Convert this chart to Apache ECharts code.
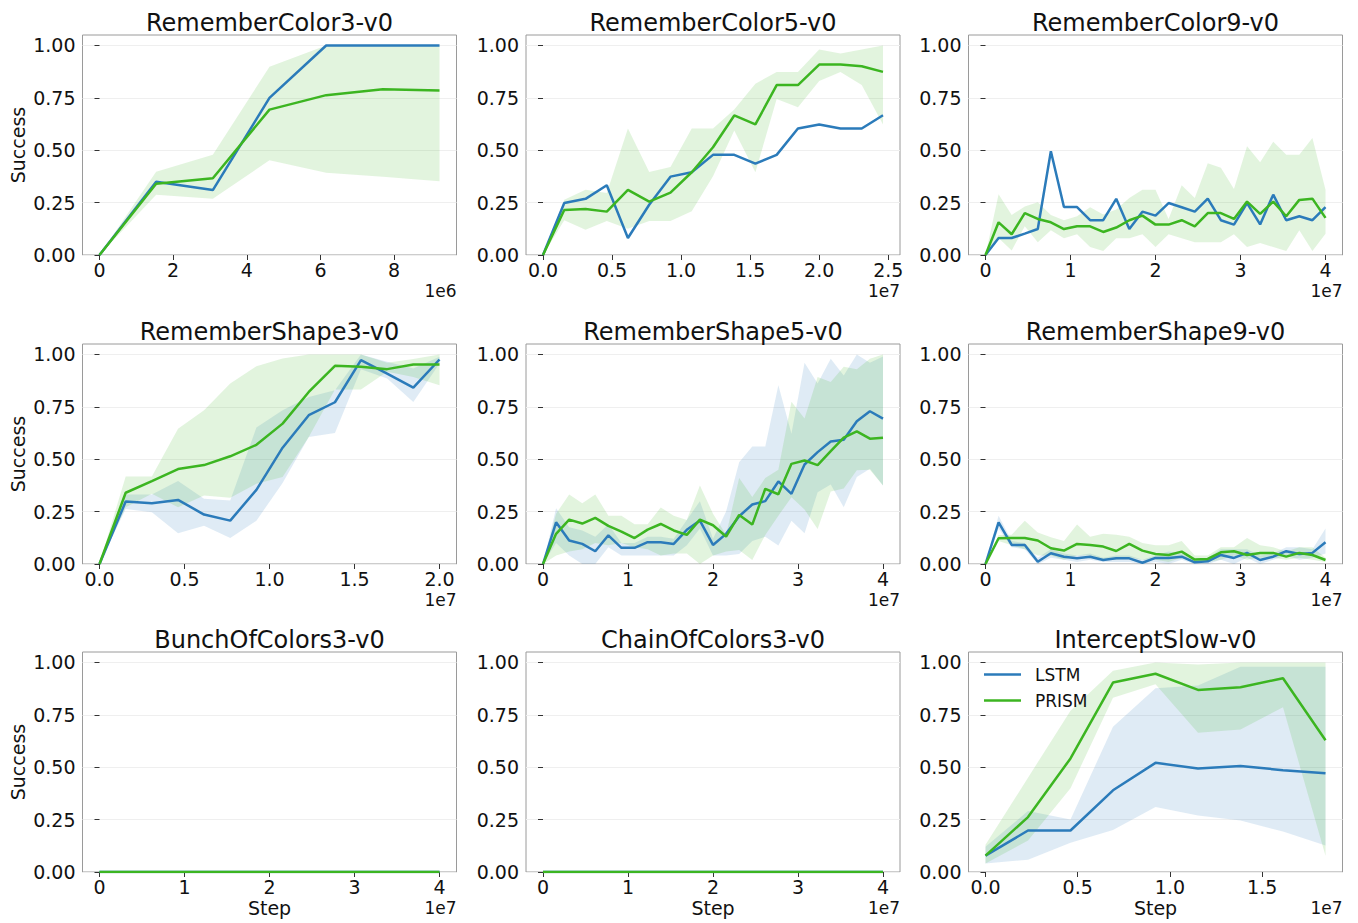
<!DOCTYPE html>
<html><head><meta charset="utf-8">
<script src="https://cdn.jsdelivr.net/npm/echarts@6/dist/echarts.min.js"></script>
<style>html,body{margin:0;padding:0;background:#fff}#c{width:1358px;height:923px}</style>
</head><body><div id="c"></div>
<script>
// ---------------- DATA ----------------
const titles = ['RememberColor3-v0','RememberColor5-v0','RememberColor9-v0',
                'RememberShape3-v0','RememberShape5-v0','RememberShape9-v0',
                'BunchOfColors3-v0','ChainOfColors3-v0','InterceptSlow-v0'];
const seriesNames = ['LSTM','PRISM'];
const yTicks = [0, 0.25, 0.5, 0.75, 1.0];

// step values (in units of the axis exponent shown at the bottom right)
const steps7  = [0, 1.538, 3.077, 4.615, 6.154, 7.692, 9.231];            // x1e6
const steps17 = [0, 0.154, 0.308, 0.462, 0.615, 0.769, 0.923, 1.077, 1.231, 1.385, 1.538, 1.692, 1.846, 2.0, 2.154, 2.308, 2.462]; // x1e7
const steps14 = [0, 0.154, 0.308, 0.462, 0.615, 0.769, 0.923, 1.077, 1.231, 1.385, 1.538, 1.692, 1.846, 2.0]; // x1e7
const steps27 = [0, 0.154, 0.308, 0.462, 0.615, 0.769, 0.923, 1.077, 1.231, 1.385, 1.538, 1.692, 1.846, 2.0, 2.154, 2.308, 2.462, 2.615, 2.769, 2.923, 3.077, 3.231, 3.385, 3.538, 3.692, 3.846, 4.0]; // x1e7
const steps9  = [0, 0.2304, 0.4608, 0.6912, 0.9216, 1.152, 1.3824, 1.6128, 1.8432]; // x1e7

const xTickSets = [
  [0, 2, 4, 6, 8], [0, 0.5, 1.0, 1.5, 2.0, 2.5], [0, 1, 2, 3, 4],
  [0, 0.5, 1.0, 1.5, 2.0], [0, 1, 2, 3, 4], [0, 1, 2, 3, 4],
  [0, 1, 2, 3, 4], [0, 1, 2, 3, 4], [0, 0.5, 1.0, 1.5]
];
const xTickDecimals = [0, 1, 0, 1, 0, 0, 0, 0, 1];
const xExponents = ['1e6','1e7','1e7','1e7','1e7','1e7','1e7','1e7','1e7'];

// RememberColor3-v0
const rc3_lstm     = [0, 0.35, 0.31, 0.75, 1.0, 1.0, 1.0];
const rc3_prism    = [0, 0.34, 0.366, 0.694, 0.763, 0.791, 0.785];
const rc3_prism_lo = [0, 0.288, 0.268, 0.452, 0.392, 0.373, 0.352];
const rc3_prism_hi = [0, 0.397, 0.479, 0.898, 1.0, 1.0, 1.0];

// RememberColor5-v0
const rc5_lstm     = [0, 0.248, 0.268, 0.333, 0.081, 0.24, 0.374, 0.395, 0.478, 0.478, 0.436, 0.478, 0.604, 0.623, 0.604, 0.604, 0.667];
const rc5_prism    = [0, 0.215, 0.22, 0.207, 0.311, 0.255, 0.298, 0.395, 0.514, 0.666, 0.623, 0.811, 0.811, 0.909, 0.909, 0.901, 0.874];
const rc5_prism_lo = [0, 0.166, 0.121, 0.162, 0.125, 0.162, 0.162, 0.209, 0.376, 0.594, 0.395, 0.744, 0.705, 0.83, 0.873, 0.811, 0.623];
const rc5_prism_hi = [0, 0.264, 0.312, 0.296, 0.604, 0.396, 0.42, 0.604, 0.604, 0.694, 0.817, 0.874, 0.874, 0.981, 0.962, 0.981, 1.0];

// RememberColor9-v0
const rc9_lstm     = [0, 0.081, 0.081, 0.102, 0.124, 0.495, 0.229, 0.229, 0.166, 0.166, 0.268, 0.124, 0.207, 0.188, 0.248, 0.228, 0.207, 0.269, 0.166, 0.145, 0.248, 0.146, 0.288, 0.166, 0.185, 0.166, 0.229];
const rc9_prism    = [0, 0.156, 0.099, 0.2, 0.172, 0.156, 0.124, 0.137, 0.137, 0.11, 0.131, 0.166, 0.188, 0.145, 0.145, 0.166, 0.137, 0.2, 0.2, 0.172, 0.255, 0.196, 0.255, 0.185, 0.263, 0.269, 0.177];
const rc9_prism_lo = [0, 0.081, 0.022, 0.137, 0.061, 0.118, 0.08, 0.099, 0.038, 0.019, 0.08, 0.08, 0.099, 0.038, 0.099, 0.08, 0.061, 0.061, 0.061, 0.099, 0.038, 0.057, 0.038, 0.019, 0.118, 0.019, 0.102];
const rc9_prism_hi = [0, 0.29, 0.191, 0.232, 0.252, 0.191, 0.166, 0.185, 0.228, 0.193, 0.217, 0.272, 0.312, 0.312, 0.172, 0.333, 0.272, 0.438, 0.417, 0.315, 0.519, 0.443, 0.54, 0.478, 0.478, 0.559, 0.312];

// RememberShape3-v0
const rs3_lstm     = [0, 0.298, 0.29, 0.306, 0.236, 0.207, 0.354, 0.555, 0.71, 0.772, 0.973, 0.909, 0.842, 0.976];
const rs3_lstm_lo  = [0, 0.263, 0.247, 0.147, 0.183, 0.124, 0.207, 0.386, 0.606, 0.625, 0.93, 0.885, 0.773, 0.957];
const rs3_lstm_hi  = [0, 0.332, 0.332, 0.396, 0.311, 0.303, 0.651, 0.734, 0.797, 0.829, 1.0, 0.965, 0.933, 0.989];
const rs3_prism    = [0, 0.34, 0.396, 0.453, 0.472, 0.514, 0.569, 0.67, 0.821, 0.946, 0.941, 0.93, 0.952, 0.952];
const rs3_prism_lo = [0, 0.271, 0.335, 0.271, 0.327, 0.316, 0.383, 0.415, 0.606, 0.833, 0.833, 0.917, 0.893, 0.853];
const rs3_prism_hi = [0, 0.418, 0.418, 0.646, 0.734, 0.861, 0.944, 0.981, 1.0, 1.0, 1.0, 0.96, 0.978, 1.0];

// RememberShape5-v0
const rs5_lstm     = [0, 0.199, 0.112, 0.096, 0.061, 0.137, 0.077, 0.077, 0.104, 0.104, 0.096, 0.163, 0.207, 0.091, 0.144, 0.228, 0.284, 0.3, 0.394, 0.335, 0.475, 0.534, 0.585, 0.593, 0.681, 0.729, 0.694];
const rs5_lstm_lo  = [0, 0.1, 0.04, 0.0, 0.0, 0.08, 0.04, 0.04, 0.04, 0.04, 0.04, 0.09, 0.17, 0.04, 0.04, 0.048, 0.11, 0.13, 0.088, 0.207, 0.147, 0.343, 0.38, 0.271, 0.415, 0.455, 0.375];
const rs5_lstm_hi  = [0, 0.266, 0.175, 0.16, 0.13, 0.19, 0.1, 0.1, 0.13, 0.13, 0.12, 0.21, 0.3, 0.12, 0.25, 0.486, 0.561, 0.561, 0.853, 0.622, 0.96, 0.861, 0.98, 0.9, 1.0, 0.96, 0.99];
const rs5_prism    = [0, 0.144, 0.212, 0.193, 0.22, 0.182, 0.155, 0.124, 0.164, 0.191, 0.16, 0.139, 0.212, 0.185, 0.131, 0.234, 0.188, 0.359, 0.333, 0.478, 0.494, 0.472, 0.539, 0.603, 0.633, 0.598, 0.603];
const rs5_prism_lo = [0, 0.04, 0.06, 0.07, 0.1, 0.09, 0.1, 0.08, 0.07, 0.04, 0.05, 0.05, 0.0, 0.04, 0.06, 0.067, 0.019, 0.139, 0.23, 0.319, 0.26, 0.167, 0.346, 0.36, 0.447, 0.45, 0.375];
const rs5_prism_hi = [0, 0.24, 0.332, 0.29, 0.332, 0.23, 0.23, 0.19, 0.19, 0.27, 0.23, 0.21, 0.375, 0.24, 0.14, 0.41, 0.32, 0.41, 0.45, 0.774, 0.694, 0.893, 0.869, 0.941, 0.93, 0.98, 1.0];

// RememberShape9-v0
const rs9_lstm     = [0, 0.199, 0.091, 0.091, 0.011, 0.051, 0.035, 0.027, 0.035, 0.019, 0.027, 0.027, 0.006, 0.029, 0.029, 0.035, 0.008, 0.013, 0.043, 0.029, 0.053, 0.019, 0.035, 0.061, 0.048, 0.053, 0.104];
const rs9_lstm_lo  = [0, 0.17, 0.08, 0.07, 0.0, 0.03, 0.02, 0.01, 0.02, 0.01, 0.01, 0.01, 0.0, 0.01, 0.0, 0.02, 0.0, 0.0, 0.02, 0.0, 0.03, 0.0, 0.02, 0.04, 0.02, 0.03, 0.05];
const rs9_lstm_hi  = [0, 0.23, 0.11, 0.1, 0.03, 0.07, 0.05, 0.04, 0.05, 0.03, 0.04, 0.04, 0.02, 0.04, 0.06, 0.05, 0.02, 0.03, 0.07, 0.07, 0.07, 0.04, 0.05, 0.08, 0.08, 0.07, 0.17];
const rs9_prism    = [0, 0.123, 0.124, 0.124, 0.112, 0.075, 0.064, 0.096, 0.091, 0.083, 0.062, 0.096, 0.064, 0.048, 0.043, 0.059, 0.021, 0.024, 0.056, 0.061, 0.043, 0.053, 0.053, 0.035, 0.053, 0.043, 0.019];
const rs9_prism_lo = [0, 0.11, 0.09, 0.07, 0.04, 0.04, 0.02, 0.04, 0.04, 0.02, 0.02, 0.03, 0.02, 0.02, 0.01, 0.03, 0.01, 0.01, 0.02, 0.04, 0.02, 0.03, 0.03, 0.02, 0.03, 0.02, 0.01];
const rs9_prism_hi = [0, 0.139, 0.14, 0.207, 0.15, 0.128, 0.11, 0.188, 0.13, 0.144, 0.14, 0.13, 0.1, 0.09, 0.09, 0.11, 0.04, 0.04, 0.08, 0.08, 0.124, 0.09, 0.08, 0.06, 0.08, 0.08, 0.03];

// BunchOfColors3-v0 / ChainOfColors3-v0 (all zero)
const boc3_lstm  = [0,0,0,0,0,0,0,0,0,0,0,0,0,0,0,0,0,0,0,0,0,0,0,0,0,0,0];
const boc3_prism = [0,0,0,0,0,0,0,0,0,0,0,0,0,0,0,0,0,0,0,0,0,0,0,0,0,0,0];
const coc3_lstm  = [0,0,0,0,0,0,0,0,0,0,0,0,0,0,0,0,0,0,0,0,0,0,0,0,0,0,0];
const coc3_prism = [0,0,0,0,0,0,0,0,0,0,0,0,0,0,0,0,0,0,0,0,0,0,0,0,0,0,0];

// InterceptSlow-v0
const is_lstm     = [0.078, 0.198, 0.198, 0.39, 0.521, 0.494, 0.506, 0.486, 0.471];
const is_lstm_lo  = [0.04, 0.059, 0.14, 0.2, 0.31, 0.27, 0.246, 0.193, 0.126];
const is_lstm_hi  = [0.12, 0.291, 0.251, 0.693, 0.877, 0.89, 0.98, 0.98, 0.98];
const is_prism    = [0.078, 0.262, 0.542, 0.904, 0.946, 0.869, 0.882, 0.925, 0.629];
const is_prism_lo = [0.04, 0.15, 0.4, 0.832, 0.896, 0.665, 0.68, 0.786, 0.078];
const is_prism_hi = [0.13, 0.45, 0.77, 0.96, 1.0, 0.99, 1.0, 1.0, 1.0];

// ---------------- PANELS ----------------
const panels = [
  {steps: steps7,  lstm: rc3_lstm, prism: rc3_prism, prismLo: rc3_prism_lo, prismHi: rc3_prism_hi},
  {steps: steps17, lstm: rc5_lstm, prism: rc5_prism, prismLo: rc5_prism_lo, prismHi: rc5_prism_hi},
  {steps: steps27, lstm: rc9_lstm, prism: rc9_prism, prismLo: rc9_prism_lo, prismHi: rc9_prism_hi},
  {steps: steps14, lstm: rs3_lstm, lstmLo: rs3_lstm_lo, lstmHi: rs3_lstm_hi, prism: rs3_prism, prismLo: rs3_prism_lo, prismHi: rs3_prism_hi},
  {steps: steps27, lstm: rs5_lstm, lstmLo: rs5_lstm_lo, lstmHi: rs5_lstm_hi, prism: rs5_prism, prismLo: rs5_prism_lo, prismHi: rs5_prism_hi},
  {steps: steps27, lstm: rs9_lstm, lstmLo: rs9_lstm_lo, lstmHi: rs9_lstm_hi, prism: rs9_prism, prismLo: rs9_prism_lo, prismHi: rs9_prism_hi},
  {steps: steps27, lstm: boc3_lstm, prism: boc3_prism},
  {steps: steps27, lstm: coc3_lstm, prism: coc3_prism},
  {steps: steps9,  lstm: is_lstm, lstmLo: is_lstm_lo, lstmHi: is_lstm_hi, prism: is_prism, prismLo: is_prism_lo, prismHi: is_prism_hi}
];

// ---------------- STYLE / LAYOUT ----------------
const FONT = 'DejaVu Sans';
const BLUE = '#2b7bba';
const GREEN = '#3cb521';
const BLUE_BAND = 'rgba(43,123,186,0.15)';
const GREEN_BAND = 'rgba(60,181,33,0.15)';
const colLeft = [82.5, 526, 968.5];
const rowTop = [35, 344, 652];
const W = 374, H = 220;

const grids = [], xAxes = [], yAxes = [], series = [], graphics = [];

function pairs(xs, ys) { return xs.map((x, i) => [x, ys[i]]); }

// band drawn as one polygon through the axis scales (api.coord)
function addBand(k, xs, lo, hi, fill) {
  series.push({
    type: 'custom', xAxisIndex: k, yAxisIndex: k, silent: true, z: 1, clip: true,
    data: xs.map((x, i) => [x, lo[i], hi[i]]),
    encode: { x: 0, y: [1, 2] },
    renderItem: function (params, api) {
      if (params.dataIndexInside !== 0) return null;
      const n = params.dataInsideLength;
      const pts = [];
      for (let i = 0; i < n; i++) pts.push(api.coord([api.value(0, i), api.value(2, i)]));
      for (let i = n - 1; i >= 0; i--) pts.push(api.coord([api.value(0, i), api.value(1, i)]));
      return { type: 'polygon', shape: { points: pts }, style: { fill: fill, stroke: null } };
    }
  });
}

panels.forEach((p, k) => {
  const r = Math.floor(k / 3), c = k % 3;
  const left = colLeft[c], top = rowTop[r];
  const xs = p.steps;
  const span = xs[xs.length - 1] - xs[0];
  grids.push({ left: left, top: top, width: W, height: H, show: true,
               borderColor: '#9a9a9a', borderWidth: 1, backgroundColor: '#fff' });
  const dec = xTickDecimals[k];
  xAxes.push({
    gridIndex: k, type: 'value', min: xs[0] - 0.05 * span, max: xs[xs.length - 1] + 0.05 * span,
    axisLine: { show: false },
    axisTick: { show: true, customValues: xTickSets[k], length: 5, lineStyle: { color: '#333', width: 1 } },
    axisLabel: { customValues: xTickSets[k], formatter: v => v.toFixed(dec), margin: 5,
                 fontSize: 19, fontFamily: FONT, color: '#111' },
    splitLine: { show: false }
  });
  yAxes.push({
    gridIndex: k, type: 'value', min: 0, max: 1.05, interval: 0.25,
    axisLine: { show: false },
    axisTick: { show: true, customValues: yTicks, length: 5, lineStyle: { color: '#333', width: 1 } },
    axisLabel: { customValues: yTicks, formatter: v => v.toFixed(2), margin: 7,
                 fontSize: 19, fontFamily: FONT, color: '#111' },
    splitLine: { show: true, lineStyle: { color: '#efefef', width: 1 } }
  });
  if (p.lstmLo) addBand(k, xs, p.lstmLo, p.lstmHi, BLUE_BAND);
  if (p.prismLo) addBand(k, xs, p.prismLo, p.prismHi, GREEN_BAND);
  series.push({ type: 'line', name: seriesNames[0], xAxisIndex: k, yAxisIndex: k, data: pairs(xs, p.lstm),
                symbol: 'none', color: BLUE, lineStyle: { color: BLUE, width: 2.5 }, z: 3 });
  series.push({ type: 'line', name: seriesNames[1], xAxisIndex: k, yAxisIndex: k, data: pairs(xs, p.prism),
                symbol: 'none', color: GREEN, lineStyle: { color: GREEN, width: 2.5 }, z: 4 });

  // title
  graphics.push({ type: 'text', x: left + W / 2, y: top - 12.5, silent: true,
    style: { text: titles[k], fontSize: 24, fontFamily: FONT, fill: '#111', align: 'center', verticalAlign: 'middle' } });
  // exponent text
  graphics.push({ type: 'text', x: left + W, y: top + H + 35.5, silent: true,
    style: { text: xExponents[k], fontSize: 17, fontFamily: FONT, fill: '#111', align: 'right', verticalAlign: 'middle' } });
  if (c === 0) {
    graphics.push({ type: 'text', x: 17.5, y: top + H / 2, rotation: Math.PI / 2, silent: true,
      style: { text: 'Success', fontSize: 19, fontFamily: FONT, fill: '#111', align: 'center', verticalAlign: 'middle' } });
  }
  if (r === 2) {
    graphics.push({ type: 'text', x: left + W / 2, y: top + H + 36, silent: true,
      style: { text: 'Step', fontSize: 19, fontFamily: FONT, fill: '#111', align: 'center', verticalAlign: 'middle' } });
  }
});

const chart = echarts.init(document.getElementById('c'), null, { renderer: 'svg', width: 1358, height: 923 });
chart.setOption({
  animation: false,
  backgroundColor: '#fff',
  grid: grids, xAxis: xAxes, yAxis: yAxes, series: series,
  legend: {
    data: seriesNames, orient: 'vertical', left: 979, top: 661,
    icon: 'rect', itemWidth: 37, itemHeight: 2.5, itemGap: 9,
    textStyle: { fontSize: 17, fontFamily: FONT, color: '#111', padding: [0, 0, 0, 9] },
    selectedMode: false
  },
  graphic: graphics
});
</script></body></html>
